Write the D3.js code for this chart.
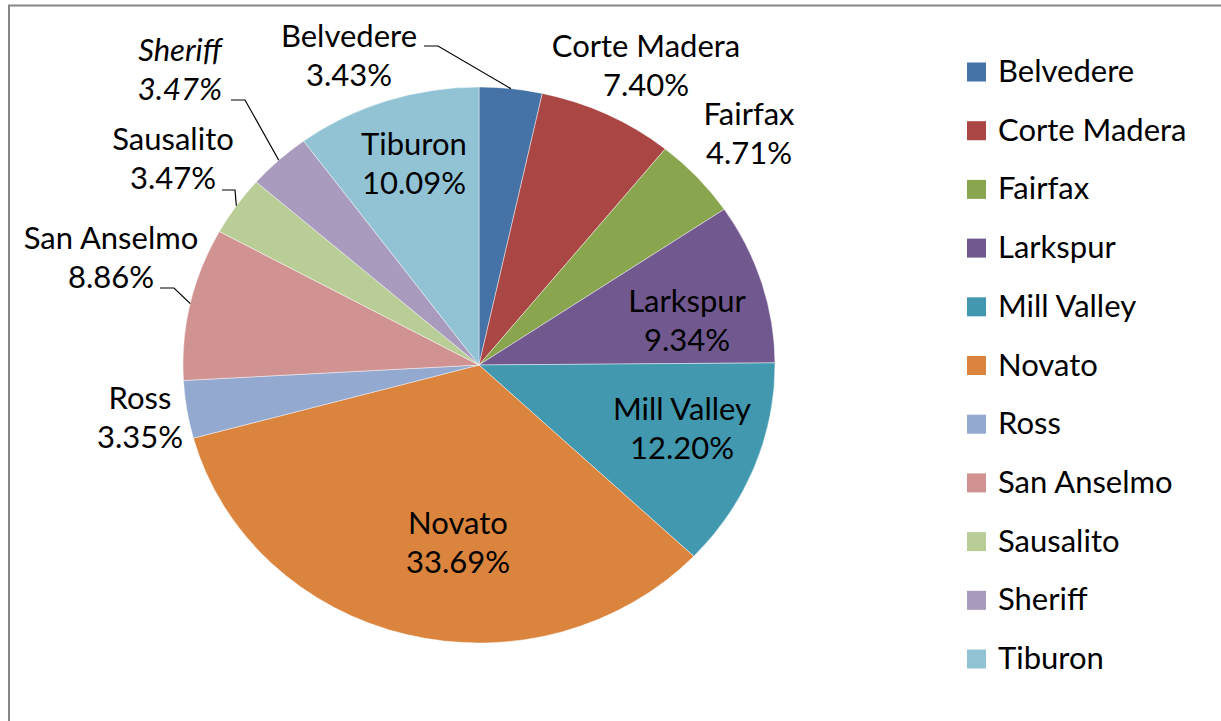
<!DOCTYPE html>
<html lang="en">
<head>
    <meta charset="UTF-8">
    <title>Share by Agency</title>
    <script src="https://d3js.org/d3.v7.min.js"></script>
    <style>
        body { margin: 0; background: #fff; }
        svg text { font-family: Lato, "Open Sans", sans-serif; fill: #000; }
        .lbl { font-size: 31px; }
        .leg { font-size: 31px; }
    </style>
</head>
<body>
    <svg id="chart" width="1221" height="721"></svg>

    <script>
        const towns = ["Belvedere", "Corte Madera", "Fairfax", "Larkspur", "Mill Valley", "Novato",
                       "Ross", "San Anselmo", "Sausalito", "Sheriff", "Tiburon"];
        const shares = [3.43, 7.40, 4.71, 9.34, 12.20, 33.69, 3.35, 8.86, 3.47, 3.47, 10.09];
        const colors = ["#4572A7", "#AA4643", "#89A54E", "#71588F", "#4198AF", "#DB843D",
                        "#93A9CF", "#D19392", "#B9CD96", "#A99BBD", "#92C3D4"];

        // label placement (x centre, first baseline), leader elbow if any
        const labelPos = {
            "Belvedere":    { x: 349, y: 47, leader: [[424, 46], [438, 46]] },
            "Corte Madera": { x: 646, y: 57 },
            "Fairfax":      { x: 749, y: 125 },
            "Larkspur":     { x: 687, y: 312 },
            "Mill Valley":  { x: 682, y: 420 },
            "Novato":       { x: 458, y: 534 },
            "Ross":         { x: 140, y: 409 },
            "San Anselmo":  { x: 111, y: 249, leader: [[160, 288], [174, 288]] },
            "Sausalito":    { x: 173, y: 150, leader: [[222, 190], [235, 190]] },
            "Sheriff":      { x: 180, y: 61, leader: [[231, 100], [245, 100]], italic: true },
            "Tiburon":      { x: 414, y: 155 }
        };

        const cx = 479, cy = 365, ry = 278, rx = 296;
        const sx = rx / ry;

        const svg = d3.select("#chart");

        // chart area border (runs off the right and bottom)
        svg.append("rect")
            .attr("x", 9).attr("y", 5.5)
            .attr("width", 1300).attr("height", 800)
            .attr("fill", "none")
            .attr("stroke", "#868686")
            .attr("stroke-width", 2);

        const data = towns.map((t, i) => ({ name: t, value: shares[i], color: colors[i] }));

        const pie = d3.pie().value(d => d.value).sort(null);
        const arcs = pie(data);
        const arc = d3.arc().innerRadius(0).outerRadius(ry);

        const pieG = svg.append("g")
            .attr("transform", `translate(${cx},${cy}) scale(${sx},1)`);

        pieG.selectAll("path")
            .data(arcs)
            .enter()
            .append("path")
            .attr("d", arc)
            .attr("fill", d => d.data.color)
            .attr("stroke", "#fff")
            .attr("stroke-width", 0.6)
            .attr("stroke-opacity", 0.7);

        // point on the rim at the slice's middle angle, in page coords
        function rimPoint(d) {
            const a = (d.startAngle + d.endAngle) / 2;
            return [cx + Math.sin(a) * ry * sx, cy - Math.cos(a) * ry];
        }

        const labelG = svg.append("g");
        arcs.forEach(d => {
            const p = labelPos[d.data.name];
            const t = labelG.append("text")
                .attr("class", "lbl")
                .attr("text-anchor", "middle")
                .style("font-style", p.italic ? "italic" : "normal");
            t.append("tspan").attr("x", p.x).attr("y", p.y).text(d.data.name);
            t.append("tspan").attr("x", p.x).attr("y", p.y + 38.5).text(d.data.value.toFixed(2) + "%");

            if (p.leader) {
                const pts = p.leader.concat([rimPoint(d)]);
                labelG.append("path")
                    .attr("d", d3.line()(pts))
                    .attr("fill", "none")
                    .attr("stroke", "#000")
                    .attr("stroke-width", 1.2);
            }
        });

        // legend
        const legend = svg.append("g");
        const rowY = d3.scalePoint().domain(towns).range([72, 659]);
        towns.forEach((t, i) => {
            legend.append("rect")
                .attr("x", 967)
                .attr("y", rowY(t) - 9.5)
                .attr("width", 19)
                .attr("height", 19)
                .attr("fill", colors[i]);
            legend.append("text")
                .attr("class", "leg")
                .attr("x", 998)
                .attr("y", rowY(t) + 10)
                .text(t);
        });
    </script>
</body>
</html>
